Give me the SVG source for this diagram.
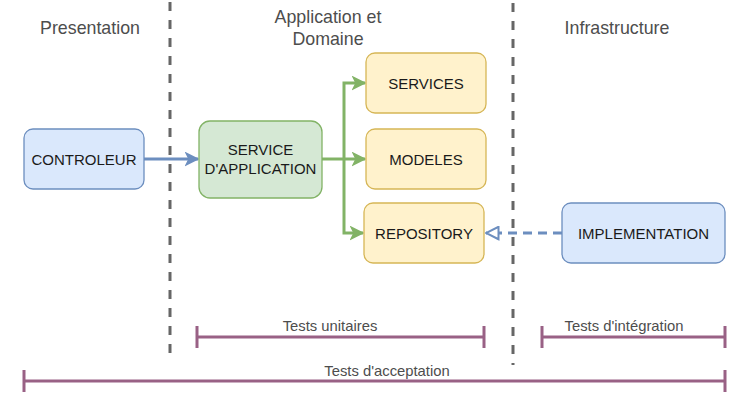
<svg xmlns="http://www.w3.org/2000/svg" width="750" height="407" viewBox="0 0 750 407">
<defs>
<style>
.title{font-family:"Liberation Sans",Arial,sans-serif;font-size:17.8px;fill:#4d4d4d;text-anchor:middle}
.lbl{font-family:"Liberation Sans",Arial,sans-serif;font-size:15px;fill:#1a1a1a;text-anchor:middle}
.tl{font-family:"Liberation Sans",Arial,sans-serif;font-size:14.8px;fill:#4d4d4d;text-anchor:middle}
.sep{stroke:#666;stroke-width:3;stroke-dasharray:9,9;fill:none}
.blue{fill:#dae8fc;stroke:#6c8ebf;stroke-width:1.3}
.green{fill:#d5e8d4;stroke:#82b366;stroke-width:1.3}
.yellow{fill:#fff2cc;stroke:#d6b656;stroke-width:1.3}
.bar{stroke:#996185;stroke-width:3;fill:none}
</style>
<marker id="ab" viewBox="0 0 10 10" refX="9" refY="5" markerWidth="5" markerHeight="5" orient="auto" markerUnits="strokeWidth"><path d="M0,0 L10,5 L0,10 L2.5,5 Z" fill="#6c8ebf"/></marker>
<marker id="ag" viewBox="0 0 10 10" refX="9" refY="5" markerWidth="5" markerHeight="5" orient="auto" markerUnits="strokeWidth"><path d="M0,0 L10,5 L0,10 L2.5,5 Z" fill="#82b366"/></marker>
<marker id="tri" viewBox="0 0 12 12" refX="11" refY="6" markerWidth="5" markerHeight="5" orient="auto" markerUnits="strokeWidth"><path d="M1,1 L11,6 L1,11 Z" fill="#fff" stroke="#6c8ebf" stroke-width="1.6"/></marker>
</defs>
<rect width="750" height="407" fill="#fff"/>
<g id="separators">
<line class="sep" x1="170" y1="2" x2="170" y2="362"/>
<line class="sep" x1="513" y1="3" x2="513" y2="365"/>
</g>
<g id="titles">
<text class="title" x="90" y="34">Presentation</text>
<text class="title" x="328" y="23">Application et</text>
<text class="title" x="328" y="45">Domaine</text>
<text class="title" x="617" y="34">Infrastructure</text>
</g>
<g id="connectors">
<line x1="144" y1="159" x2="198" y2="159" stroke="#6c8ebf" stroke-width="3" marker-end="url(#ab)"/>
<polyline points="322,159 344,159" stroke="#82b366" stroke-width="3" fill="none"/>
<polyline points="344,159 344,83 365,83" stroke="#82b366" stroke-width="3" fill="none" marker-end="url(#ag)"/>
<polyline points="344,159 365,159" stroke="#82b366" stroke-width="3" fill="none" marker-end="url(#ag)"/>
<polyline points="344,159 344,233 363,233" stroke="#82b366" stroke-width="3" fill="none" marker-end="url(#ag)"/>
<line x1="562" y1="233" x2="486" y2="233" stroke="#6c8ebf" stroke-width="3" stroke-dasharray="9,6" marker-end="url(#tri)"/>
</g>
<g id="controleur"><rect class="blue" x="24" y="129" width="120" height="60" rx="9"/><text class="lbl" x="84" y="164.5">CONTROLEUR</text></g>
<g id="service-application"><rect class="green" x="199" y="121" width="123" height="77" rx="11"/><text class="lbl" x="260.5" y="155">SERVICE</text><text class="lbl" x="260.5" y="174">D'APPLICATION</text></g>
<g id="services"><rect class="yellow" x="366" y="53" width="120" height="60" rx="9"/><text class="lbl" x="426" y="88.5">SERVICES</text></g>
<g id="modeles"><rect class="yellow" x="366" y="129" width="120" height="60" rx="9"/><text class="lbl" x="426" y="164.5">MODELES</text></g>
<g id="repository"><rect class="yellow" x="364" y="203" width="120" height="60" rx="9"/><text class="lbl" x="424" y="238.5">REPOSITORY</text></g>
<g id="implementation"><rect class="blue" x="562" y="203" width="163" height="60" rx="9"/><text class="lbl" x="643.5" y="238.5">IMPLEMENTATION</text></g>
<g id="tests-unitaires">
<path class="bar" d="M197,337 H484 M197,326 V348 M484,326 V348"/>
<text class="tl" x="330" y="331">Tests unitaires</text>
</g>
<g id="tests-integration">
<path class="bar" d="M542,337 H725 M542,326 V348 M725,326 V348"/>
<text class="tl" x="624" y="331">Tests d'intégration</text>
</g>
<g id="tests-acceptation">
<path class="bar" d="M24,381 H725 M24,370 V392 M725,370 V392"/>
<text class="tl" x="387" y="376">Tests d'acceptation</text>
</g>
</svg>
